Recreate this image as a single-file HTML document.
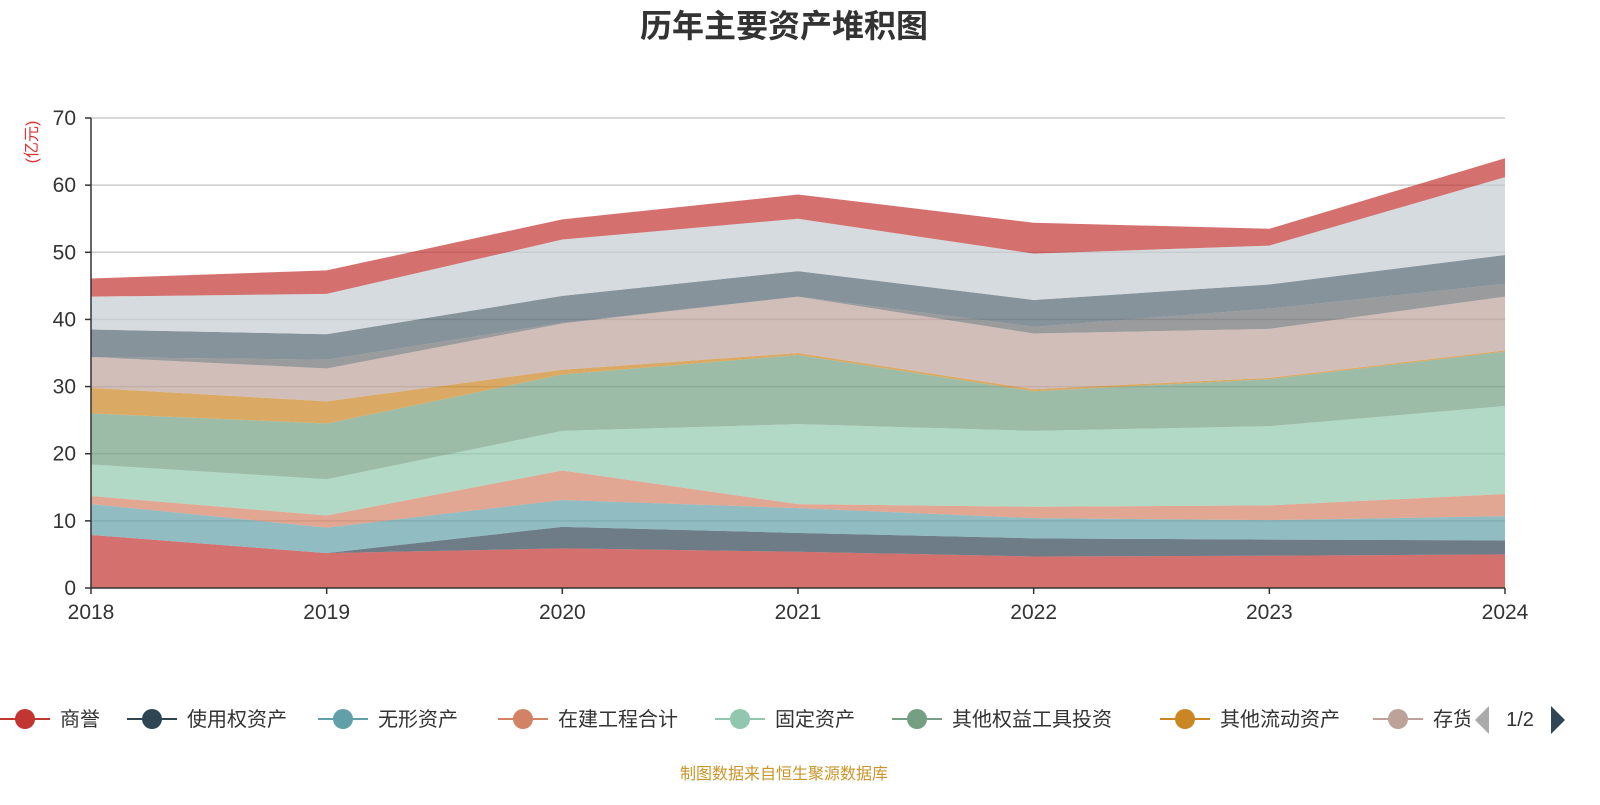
<!DOCTYPE html>
<html><head><meta charset="utf-8">
<style>
html,body{margin:0;padding:0;background:#fff;}
body{width:1600px;height:800px;overflow:hidden;font-family:"Liberation Sans","Noto Sans CJK SC",sans-serif;}
</style></head>
<body>
<svg id="chart" width="1600" height="800" xmlns="http://www.w3.org/2000/svg" font-family="Liberation Sans, Noto Sans CJK SC, sans-serif">
<text x="784" y="37" text-anchor="middle" font-size="32" font-weight="bold" fill="#333">历年主要资产堆积图</text>
<text transform="translate(37,142) rotate(-90)" text-anchor="middle" font-size="16" fill="#e03030">(亿元)</text>
<g id="grid"></g>
<g id="areas"></g>
<g id="axes"></g>
<g id="legend"></g>
<text x="784" y="779" text-anchor="middle" font-size="16" fill="#c8962a">制图数据来自恒生聚源数据库</text>
</svg>
<script>
const years = ['2018','2019','2020','2021','2022','2023','2024'];
const seriesNames = ['商誉','使用权资产','无形资产','在建工程合计','固定资产','其他权益工具投资','其他流动资产','存货','其他非流动资产','应收账款','货币资金','交易性金融资产'];
const seriesColors = ['#c23531','#2f4554','#61a0a8','#d48265','#91c7ae','#749f83','#ca8622','#bda29a','#6e7074','#546570','#c4ccd3','#c23531'];
const s0 = [7.9,5.2,5.9,5.4,4.7,4.8,5.0];
const s1 = [0,0,3.2,2.8,2.7,2.4,2.1];
const s2 = [4.6,3.8,4.0,3.7,3.0,2.9,3.6];
const s3 = [1.2,1.8,4.4,0.6,1.7,2.2,3.3];
const s4 = [4.7,5.4,5.9,11.9,11.3,11.8,13.1];
const s5 = [7.6,8.3,8.4,10.3,5.9,7.0,8.1];
const s6 = [3.8,3.3,0.7,0.3,0.3,0.2,0.2];
const s7 = [4.6,4.9,6.9,8.4,8.3,7.3,8.0];
const s8 = [0,1.3,0.1,0,1.0,3.0,1.9];
const s9 = [4.1,3.8,4.0,3.8,4.0,3.6,4.3];
const s10 = [4.9,6.0,8.4,7.8,6.9,5.8,11.6];
const s11 = [2.7,3.5,3.0,3.6,4.6,2.5,2.8];
const yTicks = [0,10,20,30,40,50,60,70];

const NS='http://www.w3.org/2000/svg';
const X0=91,X1=1505,Y0=588,Y1=118,YMAX=70;
function xs(i){return X0+(X1-X0)*i/(years.length-1);}
function ys(v){return Y0-(Y0-Y1)*v/YMAX;}
function mk(tag,attrs,parent){const e=document.createElementNS(NS,tag);for(const k in attrs)e.setAttribute(k,attrs[k]);parent.appendChild(e);return e;}

const grid=document.getElementById('grid');
yTicks.forEach(t=>{
  if(t>0){const l=mk('line',{x1:X0,x2:X1,y1:ys(t),y2:ys(t),stroke:'#ccc','stroke-width':1.5},grid);
  
  }
});
const series=[s0,s1,s2,s3,s4,s5,s6,s7,s8,s9,s10,s11];
const areas=document.getElementById('areas');
let base=years.map(()=>0);
series.forEach((s,k)=>{
  const top=base.map((b,i)=>b+s[i]);
  let d='M'+years.map((_,i)=>xs(i)+','+ys(top[i])).join('L');
  for(let i=years.length-1;i>=0;i--) d+='L'+xs(i)+','+ys(base[i]);
  d+='Z';
  const p=mk('path',{d:d,fill:seriesColors[k],'fill-opacity':0.7},areas);
  
  
  base=top;
});
const axes=document.getElementById('axes');
mk('line',{x1:X0,x2:X0,y1:Y1,y2:Y0,stroke:'#333','stroke-width':1.5},axes);
mk('line',{x1:X0,x2:X1,y1:Y0,y2:Y0,stroke:'#333','stroke-width':1.5},axes);
yTicks.forEach(t=>{
  mk('line',{x1:X0-6,x2:X0,y1:ys(t),y2:ys(t),stroke:'#333','stroke-width':1.5},axes);
  const tx=mk('text',{x:X0-15,y:ys(t)+7,'text-anchor':'end','font-size':21,fill:'#333'},axes);
  tx.textContent=t;
  
  
});
years.forEach((y,i)=>{
  mk('line',{x1:xs(i),x2:xs(i),y1:Y0,y2:Y0+6,stroke:'#333','stroke-width':1.5},axes);
  const tx=mk('text',{x:xs(i),y:619,'text-anchor':'middle','font-size':21,fill:'#333'},axes);
  tx.textContent=y;
  
  
});
const legend=document.getElementById('legend');
const legX=[25,152,343,523,740,917,1185,1398];
const clip=mk('clipPath',{id:'legclip'},legend);
mk('rect',{x:0,y:690,width:1470,height:60},clip);
const lg=mk('g',{'clip-path':'url(#legclip)'},legend);
legX.forEach((x,k)=>{
  const g=mk('g',{},lg);
  
  
  mk('line',{x1:x-25,x2:x+25,y1:719,y2:719,stroke:seriesColors[k],'stroke-width':2},g);
  mk('circle',{cx:x,cy:719,r:10,fill:seriesColors[k]},g);
  const t=mk('text',{x:x+35,y:726,'font-size':20,fill:'#333'},g);
  t.textContent=seriesNames[k];
});
const pl=mk('path',{d:'M1489,706 L1475,720 L1489,734 Z',fill:'#aaa'},legend);


const pt=mk('text',{x:1520,y:726,'text-anchor':'middle','font-size':20,fill:'#333'},legend);
pt.textContent='1/2';


const pr=mk('path',{d:'M1551,706 L1565,720 L1551,734 Z',fill:'#2f4554'},legend);


</script>
</body></html>
